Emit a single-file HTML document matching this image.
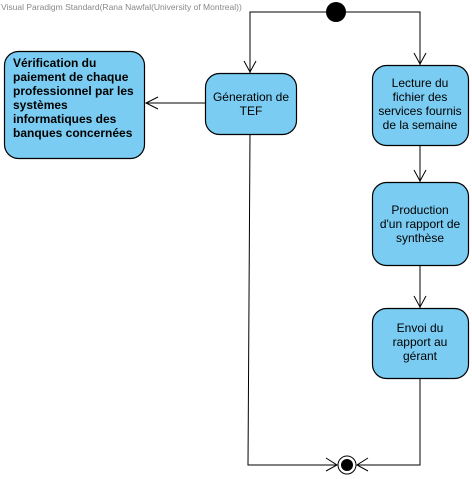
<!DOCTYPE html>
<html><head><meta charset="utf-8"><style>
html,body{margin:0;padding:0;background:#fff;}
svg{display:block;}
text{font-family:"Liberation Sans",sans-serif;font-size:12px;fill:#000;}
</style></head><body>
<svg width="472" height="479" viewBox="0 0 472 479" xmlns="http://www.w3.org/2000/svg">
<text x="1" y="10" style="font-size:8.5px;fill:#888">Visual Paradigm Standard(Rana Nawfal(University of Montreal))</text>
<g fill="none" stroke="#000" stroke-width="1">
<polyline points="250,73 250,12 420,12 420,65"/>
<polyline points="244,61 250,72 256,61"/>
<polyline points="414,53 420,64 426,53"/>
<line x1="205" y1="103" x2="146" y2="103"/>
<polyline points="158,97 146,103 158,109"/>
<line x1="420" y1="145" x2="420" y2="182"/>
<polyline points="414,170 420,181 426,170"/>
<line x1="420" y1="265" x2="420" y2="308"/>
<polyline points="414,296 420,307 426,296"/>
<polyline points="250,134 248,465 337,465"/>
<polyline points="420,378 420,465 357,465"/>
<polyline points="326,458 337,465 326,471"/>
<polyline points="368,458 357,465 368,471"/>
</g>
<circle cx="336" cy="12" r="10" fill="#000"/>
<circle cx="347" cy="465" r="9" fill="#fff" stroke="#000"/>
<circle cx="347" cy="465" r="6" fill="#000"/>
<g fill="#7accf2" stroke="#000" stroke-width="1.2">
<rect x="4.5" y="51.5" width="140" height="107" rx="14"/>
<rect x="205.5" y="73.5" width="91" height="61" rx="14"/>
<rect x="372.5" y="65.5" width="96" height="80" rx="14"/>
<rect x="372.5" y="182.5" width="96" height="83" rx="14"/>
<rect x="372.5" y="308.5" width="96" height="70" rx="14"/>
</g>
<g style="font-weight:bold">
<text x="13" y="67">Vérification du</text>
<text x="13" y="81">paiement de chaque</text>
<text x="13" y="95">professionnel par les</text>
<text x="13" y="109">systèmes</text>
<text x="13" y="123">informatiques des</text>
<text x="13" y="137">banques concernées</text>
</g>
<g text-anchor="middle">
<text x="251" y="101">Géneration de</text>
<text x="251" y="115">TEF</text>
<text x="420" y="87">Lecture du</text>
<text x="420" y="101">fichier des</text>
<text x="420" y="115">services fournis</text>
<text x="420" y="129">de la semaine</text>
<text x="420" y="214">Production</text>
<text x="420" y="228">d'un rapport de</text>
<text x="420" y="242">synthèse</text>
<text x="420" y="332">Envoi du</text>
<text x="420" y="346">rapport au</text>
<text x="420" y="360">gérant</text>
</g>
</svg>
</body></html>
